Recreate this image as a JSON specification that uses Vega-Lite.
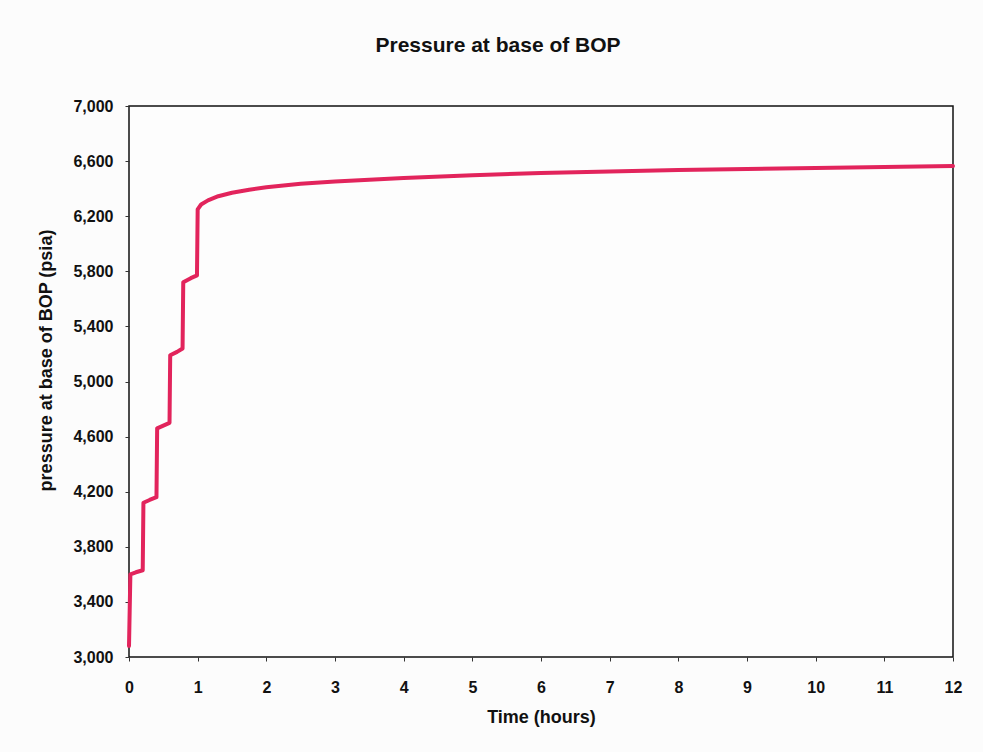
{
  "$schema": "https://vega.github.io/schema/vega-lite/v6.json",
  "autosize": "none",
  "width": 824,
  "height": 551,
  "padding": {"left": 129, "top": 106, "right": 30, "bottom": 95},
  "background": "#fcfcfc",
  "title": {
    "text": "Pressure at base of BOP",
    "font": "Liberation Sans",
    "fontSize": 21,
    "fontWeight": "bold",
    "color": "#111",
    "anchor": "middle",
    "dx": -43,
    "offset": 42
  },
  "config": {
    "view": {"stroke": "#111", "strokeWidth": 1.5, "fill": "#fdfdfd"},
    "axis": {
      "labelFont": "Liberation Sans",
      "labelFontWeight": "bold",
      "labelFontSize": 16,
      "labelColor": "#111",
      "titleFont": "Liberation Sans",
      "titleFontWeight": "bold",
      "titleFontSize": 18,
      "titleColor": "#111",
      "grid": false,
      "domain": false,
      "tickColor": "#333",
      "tickSize": 4
    }
  },
  "data": {
    "values": [
      {"t": 0, "p": 3080},
      {"t": 0.02, "p": 3600},
      {"t": 0.1, "p": 3615},
      {"t": 0.2, "p": 3630},
      {"t": 0.21, "p": 4120},
      {"t": 0.3, "p": 4140},
      {"t": 0.4, "p": 4160},
      {"t": 0.41, "p": 4660},
      {"t": 0.5, "p": 4680},
      {"t": 0.59, "p": 4700},
      {"t": 0.6, "p": 5190},
      {"t": 0.7, "p": 5215},
      {"t": 0.78, "p": 5240},
      {"t": 0.79, "p": 5720},
      {"t": 0.9, "p": 5750},
      {"t": 0.99, "p": 5770},
      {"t": 1.0, "p": 6250},
      {"t": 1.05, "p": 6285},
      {"t": 1.15, "p": 6315},
      {"t": 1.3, "p": 6345},
      {"t": 1.5, "p": 6370},
      {"t": 1.75, "p": 6392},
      {"t": 2.0, "p": 6410},
      {"t": 2.5, "p": 6435},
      {"t": 3, "p": 6452},
      {"t": 3.5, "p": 6465},
      {"t": 4, "p": 6478},
      {"t": 5, "p": 6498},
      {"t": 6, "p": 6513},
      {"t": 7, "p": 6525},
      {"t": 8, "p": 6535},
      {"t": 9, "p": 6543},
      {"t": 10, "p": 6550},
      {"t": 11, "p": 6557},
      {"t": 12, "p": 6564}
    ]
  },
  "mark": {"type": "line", "color": "#E2245C", "strokeWidth": 4, "strokeJoin": "round", "strokeCap": "round"},
  "encoding": {
    "x": {
      "field": "t",
      "type": "quantitative",
      "scale": {"domain": [0, 12], "nice": false},
      "axis": {"values": [0,1,2,3,4,5,6,7,8,9,10,11,12], "title": "Time (hours)", "labelPadding": 18, "titlePadding": 13, "labelFlush": false}
    },
    "y": {
      "field": "p",
      "type": "quantitative",
      "scale": {"domain": [3000, 7000], "nice": false, "zero": false},
      "axis": {"values": [3000,3400,3800,4200,4600,5000,5400,5800,6200,6600,7000], "format": ",d", "title": "pressure at base of BOP (psia)", "labelPadding": 12, "titlePadding": 17, "labelFlush": false, "titleY": 254}
    }
  }
}
